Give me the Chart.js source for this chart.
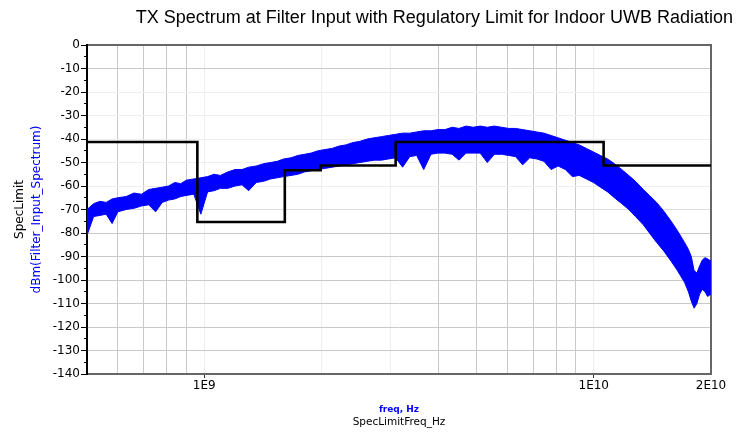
<!DOCTYPE html>
<html><head><meta charset="utf-8">
<script src="https://cdn.jsdelivr.net/npm/chart.js@4"></script>
<style>
html,body{margin:0;padding:0;background:#fff;}
#wrap{position:relative;width:743px;height:436px;overflow:hidden;}
canvas{position:absolute;left:0;top:0;}
#title{position:absolute;left:0;right:10px;top:7px;text-align:right;white-space:nowrap;
  font-family:"Liberation Sans",Arial,sans-serif;font-size:18px;line-height:20px;color:#000;}
</style></head><body>
<div id="wrap"><canvas id="c" width="743" height="436"></canvas>
<div id="title">TX Spectrum at Filter Input with Regulatory Limit for Indoor UWB Radiation</div></div>
<script>
// ---- regulatory limit (stepped) ----
const specFreqHz   = [5e8, 9.6e8, 1.61e9, 1.99e9, 3.1e9, 1.06e10, 2e10];
const specLimitDbm = [-41.3, -75.3, -53.3, -51.3, -41.3, -51.3, -51.3];

const spectrumFreqGHz = [0.50,0.52,0.54,0.56,0.58,0.60,0.63,0.66,0.69,0.72,0.75,0.78,0.81,0.84,0.87,0.90,0.94,0.98,
  1.02,1.06,1.10,1.15,1.20,1.25,1.30,1.36,1.42,1.48,1.54,1.60,1.67,1.74,1.81,1.88,1.96,2.04,2.13,2.22,2.31,2.41,2.51,
  2.62,2.73,2.85,2.97,3.10,3.23,3.37,3.51,3.66,3.82,3.98,4.15,4.33,4.51,4.70,4.90,5.11,5.33,5.56,5.80,6.05,6.30,6.57,
  6.85,7.14,7.45,7.77,8.10,8.45,8.81,9.18,9.57,9.98,10.4,10.85,11.3,11.8,12.3,12.8,13.4,13.9,14.5,15.1,15.8,16.4,17.1,
  17.5,17.8,18.1,18.4,18.7,19.0,19.3,19.6,20.0];
const spectrumUpperDbm = [-70,-67.5,-66.5,-67,-65.5,-65,-64.5,-63,-63.5,-61.5,-61,-60.5,-60,-58.5,-59,-57.5,-57,-56.5,
  -56,-55,-55.5,-54,-53,-53,-52,-51.5,-50.5,-50,-49.5,-48.5,-48,-47,-46.5,-46,-45,-44.5,-44,-43,-42.5,-41.5,-41,
  -40,-39.5,-39,-38.5,-38,-37.5,-37.5,-37,-36.5,-36.5,-36,-36,-35,-35.5,-34.5,-35,-34.5,-35,-34.5,-35,-35.5,-35.5,-36,
  -36.5,-37,-37.5,-38.5,-39.5,-40.5,-41.5,-42.5,-44,-45.5,-47,-48.5,-50.5,-53,-55.5,-58,-61.5,-64,-67,-70.5,-75,-79,-84,
  -87,-90,-96,-97,-94,-91.5,-90.5,-91,-92];
const spectrumLowerDbm = [-81,-73,-72.5,-72,-76,-71,-70,-69.5,-68.5,-68,-71,-67,-66,-65.5,-64.5,-64,-63.5,-72,
  -62.5,-62,-61,-61,-60,-59.5,-62,-58.5,-58,-57,-56.5,-56,-55.5,-55,-54,-53.5,-53,-52.5,-52,-51.5,-51,-50.5,-50,
  -49.5,-49,-49,-48.5,-48,-52,-47.5,-47,-53,-46.5,-46,-46,-46.5,-49,-46,-46,-46,-50,-46.5,-46.5,-47,-47.5,-51,
  -48,-48.5,-49.5,-53,-51.5,-53,-56,-55.5,-57,-58.5,-60.5,-62.5,-65,-67.5,-70,-73,-76.5,-80,-84,-87.5,-92,-96,-101,
  -105,-109,-112,-110,-106,-104,-105,-107,-106];

// ---- axes ----
const xMinHz = 5e8, xMaxHz = 2e10;
const xGridHz = [6e8,7e8,8e8,9e8,1e9,2e9,3e9,4e9,5e9,6e9,7e9,8e9,9e9,1e10];
const xFaintGridHz = [1e9,2e9,3e9,1e10];
const xLabelHz = [1e9,1e10,2e10];
const xTickLabels = ['1E9','1E10','2E10'];
const yMin = -140, yMax = 0;
const yLabelValues = [0,-10,-20,-30,-40,-50,-60,-70,-80,-90,-100,-110,-120,-130,-140];
const yMinorValues = [-5,-15,-25,-35,-45,-55,-65,-75,-85,-95,-105,-115,-125,-135];
const yFaintGrid = [-20,-30,-40,-50,-60];
const yMediumGrid = [-70];

const near = (a, b) => Math.abs(a - b) <= Math.abs(b) * 1e-6 + 1e-9;
const inList = (v, list) => list.some(b => near(v, b));

const WIDE = '"DejaVu Sans", Verdana, sans-serif';
Chart.defaults.font.family = WIDE;
Chart.defaults.color = '#000';

const specData = specFreqHz.map((f, i) => ({x: f, y: specLimitDbm[i]}));
const upperData = spectrumFreqGHz.map((f, i) => ({x: f * 1e9, y: spectrumUpperDbm[i]}));
const lowerData = spectrumFreqGHz.map((f, i) => ({x: f * 1e9, y: spectrumLowerDbm[i]}));

new Chart(document.getElementById('c'), {
  type: 'line',
  data: {
    datasets: [
      {label: 'SpecLimit', data: specData, stepped: 'before', borderColor: '#000', borderWidth: 2.6,
       pointRadius: 0, fill: false, xAxisID: 'x', yAxisID: 'y'},
      {label: 'upper', data: upperData, borderColor: '#0000ff', borderWidth: 1, pointRadius: 0,
       tension: 0, fill: false, xAxisID: 'x', yAxisID: 'y'},
      {label: 'lower', data: lowerData, borderColor: '#0000ff', borderWidth: 1, pointRadius: 0,
       tension: 0, fill: '-1', backgroundColor: '#0000ff', xAxisID: 'x', yAxisID: 'y'}
    ]
  },
  options: {
    responsive: false, animation: false, devicePixelRatio: 1,
    layout: {padding: {left: 0, right: 32, top: 45, bottom: 7}},
    plugins: {legend: {display: false}, tooltip: {enabled: false}, title: {display: false}},
    scales: {
      x: {
        type: 'logarithmic', position: 'bottom', weight: 0, min: xMinHz, max: xMaxHz,
        afterBuildTicks: s => { s.ticks = xGridHz.concat([xMaxHz]).map(v => ({value: v})); },
        ticks: {autoSkip: false, maxRotation: 0, padding: 1, font: {size: 12}, color: '#000',
          callback: (v, i, ticks) => { const val = ticks[i].value; const k = xLabelHz.findIndex(b => near(val, b)); return k >= 0 ? xTickLabels[k] : ''; }},
        grid: {
          color: c => { const v = c.tick ? c.tick.value : 0; if (near(v, xMaxHz)) return 'rgba(0,0,0,0)'; return inList(v, xFaintGridHz) ? '#eeeeee' : '#c9c9c9'; },
          lineWidth: 1, tickLength: 4,
          tickColor: c => (c.tick && inList(c.tick.value, [1e9, 1e10])) ? '#333' : 'rgba(0,0,0,0)'
        },
        border: {color: '#666', width: 2},
        title: {display: true, text: 'freq, Hz', color: '#0000ff', font: {size: 9, weight: 'bold'}, padding: {top: 0, bottom: 0}},
        afterFit: s => { s.height = 41; }
      },
      x2: {
        type: 'logarithmic', position: 'bottom', weight: 1, min: xMinHz, max: xMaxHz,
        ticks: {display: false}, grid: {display: false, drawTicks: false}, border: {display: false},
        title: {display: true, text: 'SpecLimitFreq_Hz', color: '#000', font: {size: 10.5}, padding: {top: 0, bottom: 0}},
        afterFit: s => { s.height = 14; }
      },
      xTop: {
        type: 'logarithmic', position: 'top', min: xMinHz, max: xMaxHz,
        ticks: {display: false}, grid: {display: false, drawTicks: false}, border: {color: '#666', width: 2},
        afterFit: s => { s.height = 0; }
      },
      y: {
        type: 'linear', position: 'left', weight: 0, min: yMin, max: yMax,
        afterBuildTicks: s => { s.ticks = yLabelValues.concat(yMinorValues).sort((a, b) => a - b).map(v => ({value: v})); },
        ticks: {autoSkip: false, padding: 1, font: {size: 12}, color: '#000',
          callback: (v, i, ticks) => { const val = ticks[i].value; return yLabelValues.includes(val) ? String(val) : ''; }},
        grid: {
          color: c => { const v = c.tick ? c.tick.value : 0; if (v === yMin || v === yMax || yMinorValues.includes(v)) return 'rgba(0,0,0,0)';
            if (yFaintGrid.includes(v)) return '#eeeeee'; if (yMediumGrid.includes(v)) return '#dddddd'; return '#c9c9c9'; },
          lineWidth: 1, tickLength: 6, tickColor: '#000',
          tickBorderDash: c => (c.tick && yMinorValues.includes(c.tick.value)) ? [3, 3] : [],
          tickBorderDashOffset: c => (c.tick && yMinorValues.includes(c.tick.value)) ? 3 : 0
        },
        border: {color: '#000', width: 2},
        title: {display: true, text: 'dBm(Filter_Input_Spectrum)', color: '#0000ff', font: {size: 12}, padding: {top: 2, bottom: 0}},
        afterFit: s => { s.width = 59; }
      },
      y2: {
        type: 'linear', position: 'left', weight: 1, min: yMin, max: yMax,
        ticks: {display: false}, grid: {display: false, drawTicks: false}, border: {display: false},
        title: {display: true, text: 'SpecLimit', color: '#000', font: {size: 12}, padding: {top: 13, bottom: 0}},
        afterFit: s => { s.width = 28; }
      },
      yR: {
        type: 'linear', position: 'right', min: yMin, max: yMax,
        ticks: {display: false}, grid: {display: false, drawTicks: false}, border: {color: '#666', width: 2},
        afterFit: s => { s.width = 0; }
      }
    }
  }
});
</script>
</body></html>
